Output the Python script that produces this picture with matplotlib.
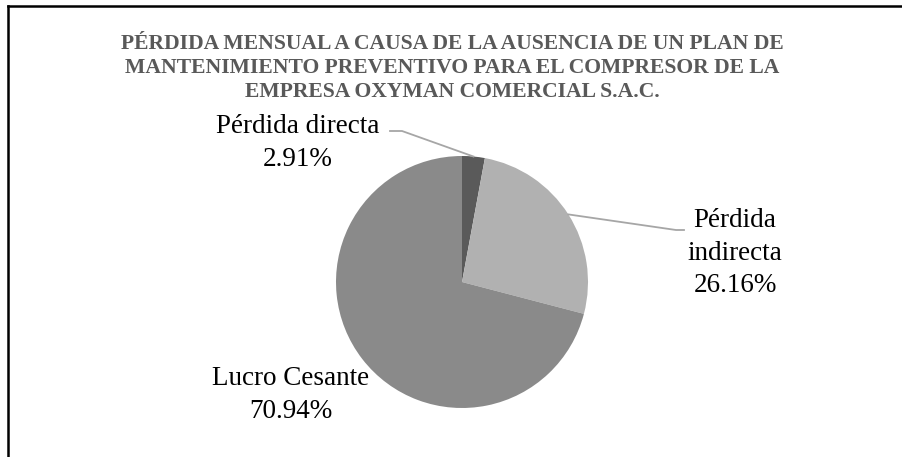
import numpy as np
import matplotlib.pyplot as plt
from matplotlib.lines import Line2D

# datos
labels = ["Pérdida directa", "Pérdida\nindirecta", "Lucro Cesante"]
values = [2.91, 26.16, 70.94]
colors = ["#5a5a5a", "#b1b1b1", "#8a8a8a"]

title = ("PÉRDIDA MENSUAL A CAUSA DE LA AUSENCIA DE UN PLAN DE\n"
         "MANTENIMIENTO PREVENTIVO PARA EL COMPRESOR DE LA\n"
         "EMPRESA OXYMAN COMERCIAL S.A.C.")

plt.rcParams["font.family"] = ["Liberation Serif", "DejaVu Serif"]

W, H = 903, 457
fig = plt.figure(figsize=(W / 100, H / 100), dpi=100)

# pie center (462, 282) px, radius 126 px
cx, cy, r = 462, 282, 126
ax = fig.add_axes([(cx - r) / W, (H - cy - r) / H, 2 * r / W, 2 * r / H])
wedges, _ = ax.pie(values, colors=colors, startangle=90, counterclock=False,
                   radius=1, wedgeprops=dict(linewidth=0))
ax.set_xlim(-1, 1)
ax.set_ylim(-1, 1)
ax.set_aspect("equal")
ax.axis("off")


def px(x, y):
    # pixel -> data coords of the pie axes
    return (x - cx) / r, (cy - y) / r


def mid_point(i):
    w = wedges[i]
    ang = np.deg2rad((w.theta1 + w.theta2) / 2)
    return np.cos(ang), np.sin(ang)


lead = "#a6a6a6"
# Pérdida directa
x0, y0 = mid_point(0)
pts = [(x0, y0), px(402, 131), px(390, 131)]
ax.add_line(Line2D([p[0] for p in pts], [p[1] for p in pts], color=lead, lw=1.3, clip_on=False))
# Pérdida indirecta
x1, y1 = mid_point(1)
pts = [(x1, y1), px(676, 230), px(684, 230)]
ax.add_line(Line2D([p[0] for p in pts], [p[1] for p in pts], color=lead, lw=1.3, clip_on=False))

label_pos = [px(298, 143), px(735, 253), px(291, 395)]
for lab, v, (lx, ly) in zip(labels, values, label_pos):
    ax.text(lx, ly, f"{lab}\n{v:.2f}%", ha="center", va="center",
            fontsize=19.5, linespacing=1.42, color="black", clip_on=False)

fig.text(452 / W, 1 - 68 / H, title, ha="center", va="center", fontsize=15.6,
         fontweight="bold", color="#595959", linespacing=1.24)

# marco
fig.add_artist(Line2D([8 / W, 8 / W], [1 - 6 / H, 0], color="black", lw=1.8))
fig.add_artist(Line2D([8 / W, 1], [1 - 6 / H, 1 - 6 / H], color="black", lw=1.8))

fig.savefig("out.png", dpi=100, facecolor="white")
